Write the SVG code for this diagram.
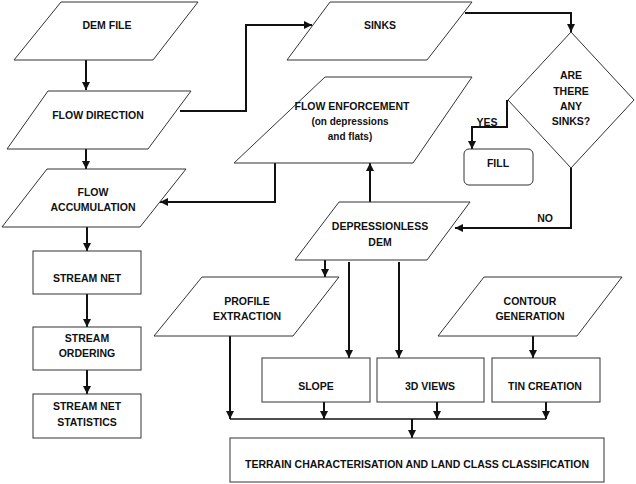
<svg xmlns="http://www.w3.org/2000/svg" width="636" height="484" viewBox="0 0 636 484">
<style>
.s{fill:#fff;stroke:#333;stroke-width:1}
.t{font-family:"Liberation Sans",Arial,sans-serif;font-weight:bold;font-size:10.5px;fill:#111;text-anchor:middle}
.c{fill:none;stroke:#111;stroke-width:2}
</style>
<defs>
<marker id="a" viewBox="0 0 8 8" refX="8" refY="4" markerWidth="8" markerHeight="8" markerUnits="userSpaceOnUse" orient="auto">
<path d="M0,0 L8,4 L0,8 z" fill="#111"/>
</marker>
</defs>
<rect width="636" height="484" fill="#fff"/>
<g id="connectors">
<path class="c" d="M86,60 V90" marker-end="url(#a)"/>
<path class="c" d="M86,149 V169" marker-end="url(#a)"/>
<path class="c" d="M180,111 H246 V25 H312" marker-end="url(#a)"/>
<path class="c" d="M465,13 H571 V32" marker-end="url(#a)"/>
<path class="c" d="M507,100 V127 H472 V149" marker-end="url(#a)"/>
<path class="c" d="M571,168 V228 H455" marker-end="url(#a)"/>
<path class="c" d="M275,163 V202 H160" marker-end="url(#a)"/>
<path class="c" d="M370,202 V163" marker-end="url(#a)"/>
<path class="c" d="M87,227 V251" marker-end="url(#a)"/>
<path class="c" d="M87,294 V327" marker-end="url(#a)"/>
<path class="c" d="M87,370 V394" marker-end="url(#a)"/>
<path class="c" d="M325,260 V277" marker-end="url(#a)"/>
<path class="c" d="M349,262 V358" marker-end="url(#a)"/>
<path class="c" d="M399,262 V358" marker-end="url(#a)"/>
<path class="c" d="M533,336 V358" marker-end="url(#a)"/>
<path class="c" d="M230,336 V419" marker-end="url(#a)"/>
<path class="c" d="M230,419 H546" style="stroke-width:1.5"/>
<path class="c" d="M324,402 V419" marker-end="url(#a)"/>
<path class="c" d="M437,402 V419" marker-end="url(#a)"/>
<path class="c" d="M546,402 V419" marker-end="url(#a)"/>
<path class="c" d="M412,419 V438" marker-end="url(#a)"/>
<text class="t" x="487" y="126">YES</text>
<text class="t" x="545" y="222">NO</text>
</g>
<g id="dem-file">
<polygon class="s" points="61,2 198,2 153,60 14,60"/>
<text class="t" x="107" y="29">DEM FILE</text>
</g>
<g id="flow-direction">
<polygon class="s" points="48,91 191,91 148,149 7,149"/>
<text class="t" x="98" y="119">FLOW DIRECTION</text>
</g>
<g id="flow-accumulation">
<polygon class="s" points="47,169 186,169 140,227 2,227"/>
<text class="t" x="93" y="196">FLOW</text>
<text class="t" x="93" y="211">ACCUMULATION</text>
</g>
<g id="sinks">
<polygon class="s" points="330,2 472,2 427,60 287,60"/>
<text class="t" x="380" y="29">SINKS</text>
</g>
<g id="decision">
<polygon class="s" points="571,32 634,100 571,168 508,100"/>
<text class="t" x="571" y="79">ARE</text>
<text class="t" x="571" y="95">THERE</text>
<text class="t" x="571" y="110">ANY</text>
<text class="t" x="571" y="125">SINKS?</text>
</g>
<g id="fill">
<rect class="s" x="464" y="149" width="69" height="36" rx="5"/>
<text class="t" x="498" y="167">FILL</text>
</g>
<g id="flow-enforcement">
<polygon class="s" points="325,77 472,77 413,163 234,163"/>
<text class="t" x="352" y="110">FLOW ENFORCEMENT</text>
<text class="t" x="350" y="125" style="font-size:10px">(on depressions</text>
<text class="t" x="350" y="140" style="font-size:10px">and flats)</text>
</g>
<g id="depressionless-dem">
<polygon class="s" points="339,202 470,202 427,260 295,260"/>
<text class="t" x="380" y="230">DEPRESSIONLESS</text>
<text class="t" x="380" y="246">DEM</text>
</g>
<g id="stream-net">
<rect class="s" x="33" y="251" width="108" height="43"/>
<text class="t" x="87" y="282">STREAM NET</text>
</g>
<g id="stream-ordering">
<rect class="s" x="33" y="327" width="108" height="43"/>
<text class="t" x="87" y="342">STREAM</text>
<text class="t" x="87" y="357">ORDERING</text>
</g>
<g id="stream-net-statistics">
<rect class="s" x="33" y="394" width="108" height="44"/>
<text class="t" x="87" y="410">STREAM NET</text>
<text class="t" x="87" y="426">STATISTICS</text>
</g>
<g id="profile-extraction">
<polygon class="s" points="202,277 339,277 293,336 154,336"/>
<text class="t" x="247" y="305">PROFILE</text>
<text class="t" x="247" y="320">EXTRACTION</text>
</g>
<g id="contour-generation">
<polygon class="s" points="484,277 622,277 577,336 438,336"/>
<text class="t" x="530" y="305">CONTOUR</text>
<text class="t" x="530" y="320">GENERATION</text>
</g>
<g id="slope">
<rect class="s" x="262" y="358" width="108" height="44"/>
<text class="t" x="316" y="390">SLOPE</text>
</g>
<g id="views-3d">
<rect class="s" x="377" y="358" width="107" height="44"/>
<text class="t" x="430" y="390">3D VIEWS</text>
</g>
<g id="tin-creation">
<rect class="s" x="492" y="358" width="108" height="44"/>
<text class="t" x="545" y="390">TIN CREATION</text>
</g>
<g id="terrain">
<rect class="s" x="230" y="438" width="374" height="44"/>
<text class="t" x="417" y="468">TERRAIN CHARACTERISATION AND LAND CLASS CLASSIFICATION</text>
</g>
</svg>
